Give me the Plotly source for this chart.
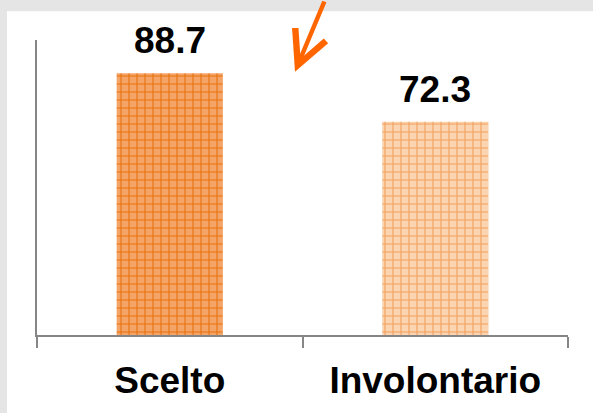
import plotly.graph_objects as go

# Survey result by type of choice
categories = ["Scelto", "Involontario"]
values = [88.7, 72.3]
bar_bg = ["#f4a466", "#fbd4b2"]
bar_fg = ["#e8720c", "#f3a05c"]

W, H = 593, 413
ML, MR, MT, MB = 37, 25, 40, 76
PW, PH = W - ML - MR, H - MT - MB


def px_x(p):
    return (p - ML) / PW


def px_y(p):
    return (H - MB - p) / PH


fig = go.Figure()
for c, v, bg, fg in zip(categories, values, bar_bg, bar_fg):
    fig.add_trace(go.Bar(
        x=[c],
        y=[v],
        width=0.4,
        marker=dict(
            color=bg,
            line=dict(width=0),
            pattern=dict(shape="+", bgcolor=bg, fgcolor=fg,
                         size=8, solidity=0.25, fillmode="replace"),
        ),
        hoverinfo="skip",
    ))
    # value label above the bar
    fig.add_annotation(
        x=c, y=v, text=f"<b>{v:.1f}</b>", showarrow=False,
        yanchor="bottom", yshift=10,
        font=dict(family="Liberation Sans", size=37, color="black"),
    )

# white panel on grey page
fig.add_shape(type="rect", xref="paper", yref="paper",
              x0=px_x(7), x1=px_x(W + 10), y0=px_y(H + 10), y1=px_y(11),
              fillcolor="white", line=dict(width=0), layer="below")

# pointer arrow
fig.add_annotation(
    xref="paper", yref="paper", x=px_x(295), y=px_y(72),
    ax=30, ay=-88, text="", showarrow=True,
    arrowhead=5, arrowsize=1.45, arrowwidth=4.5, arrowcolor="#ff6600",
)

fig.update_layout(
    width=W, height=H,
    margin=dict(l=ML, r=MR, t=MT, b=MB),
    paper_bgcolor="#e5e5e5",
    plot_bgcolor="white",
    showlegend=False,
    barmode="overlay",
)
fig.update_xaxes(
    range=[-0.5, 1.5], showline=True, linecolor="#868686", linewidth=2,
    ticks="outside", tickson="boundaries", ticklen=11, tickwidth=2,
    tickcolor="#868686", showgrid=False, zeroline=False,
    tickfont=dict(family="Liberation Sans", size=37, color="black", weight="bold"),
    ticklabelstandoff=12,
    fixedrange=True,
)
fig.update_yaxes(
    range=[0, 100], showline=True, linecolor="#868686", linewidth=2,
    showticklabels=False, ticks="", showgrid=False, zeroline=False,
    fixedrange=True,
)

fig.write_html("out.html", config={"displayModeBar": False})
